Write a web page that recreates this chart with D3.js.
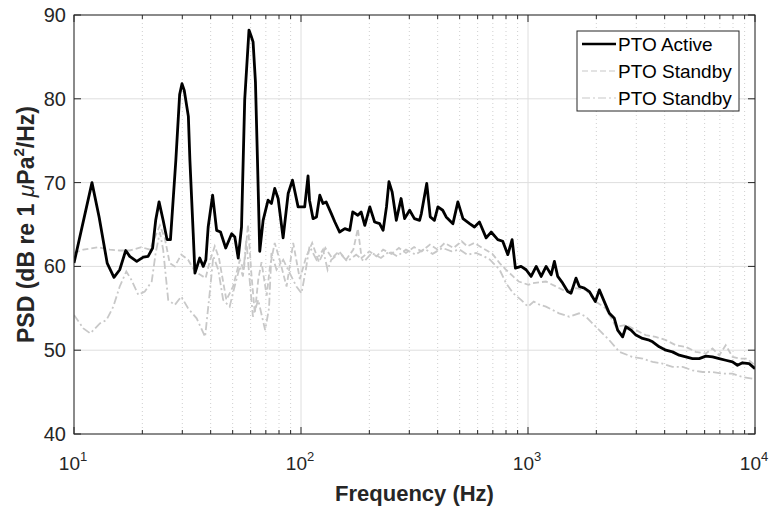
<!DOCTYPE html>
<html>
<head>
<meta charset="utf-8">
<script src="https://cdn.jsdelivr.net/npm/d3@7"></script>
<style>
  body { margin: 0; background: #fff; }
  text { font-family: "Liberation Sans", Arial, sans-serif; }
</style>
</head>
<body>
<div id="chart"></div>
<script>

// PTO Active (black)
var freqActive = [10, 12.0, 12.9, 14.0, 15.0, 15.9, 16.9, 17.6, 18.9, 20.2, 21.2, 22.2, 22.9, 23.7, 24.7, 25.7, 26.6, 28.1, 29.2, 29.9, 30.6, 31.9, 32.4, 33.5, 34.1, 35.8, 37.1, 38.1, 39.0, 40.8, 42.5, 44.2, 46.6, 49.5, 51.1, 52.9, 54.7, 56.5, 59.0, 60.3, 61.5, 63.0, 64.3, 65.8, 68.1, 71.6, 74.1, 76.6, 79.3, 83.4, 87.8, 91.7, 97.1, 103.8, 107.4, 109, 113, 117, 121, 125, 129, 136, 141, 148, 156, 164, 169, 178, 184, 191, 201, 211, 222, 230, 238, 244, 252, 263, 276, 286, 301, 316, 333, 339, 358, 371, 387, 401, 421, 436, 467, 491, 517, 553, 581, 611, 654, 688, 736, 774, 815, 851, 880, 932, 981, 1032, 1087, 1143, 1202, 1265, 1307, 1352, 1422, 1496, 1547, 1627, 1683, 1771, 1863, 1980, 2062, 2168, 2282, 2400, 2483, 2612, 2700, 2840, 2988, 3197, 3420, 3540, 3787, 4050, 4330, 4637, 4960, 5305, 5677, 6075, 6500, 6955, 7430, 7960, 8370, 8810, 9420, 10000];
var psdActive = [60.4, 70.0, 65.9, 60.4, 58.7, 59.6, 61.9, 61.2, 60.6, 61.1, 61.2, 62.2, 65.5, 67.7, 65.5, 63.2, 63.2, 72.7, 80.5, 81.8, 81.0, 77.9, 72.7, 64.0, 59.2, 61.0, 60.0, 60.8, 64.7, 68.5, 64.3, 64.1, 62.2, 63.9, 63.5, 61.0, 64.7, 79.9, 88.2, 87.5, 86.8, 82.0, 72.7, 61.8, 65.5, 67.9, 67.5, 69.3, 68.1, 63.4, 68.7, 70.3, 67.1, 67.1, 70.8, 67.9, 65.7, 65.9, 68.5, 67.5, 67.7, 66.3, 65.3, 64.1, 64.5, 64.3, 66.5, 66.1, 66.5, 64.9, 67.1, 65.3, 65.1, 64.3, 67.1, 70.1, 68.9, 65.5, 68.1, 65.7, 66.7, 65.7, 65.5, 66.3, 69.9, 65.9, 65.5, 67.1, 66.7, 65.9, 65.1, 67.7, 65.7, 65.1, 64.7, 65.3, 63.4, 64.1, 63.2, 63.0, 61.4, 63.2, 59.8, 60.0, 59.6, 58.8, 60.0, 58.8, 60.0, 59.0, 60.6, 58.8, 58.0, 57.0, 56.8, 58.6, 57.6, 57.4, 57.0, 55.8, 57.2, 55.8, 54.4, 53.8, 52.4, 51.6, 52.8, 52.4, 51.8, 51.4, 51.2, 51.0, 50.4, 50.0, 49.8, 49.4, 49.2, 49.0, 49.0, 49.3, 49.2, 49.0, 48.8, 48.6, 48.2, 48.5, 48.4, 47.8];

// PTO Standby (gray dashed)
var freqStandbyA = [10, 11, 12.8, 14.4, 15.9, 17.6, 19.8, 21.6, 22.9, 23.9, 25.1, 26.4, 27.8, 29.7, 31.8, 34.1, 36, 38, 39.6, 41.7, 43.5, 46.9, 50.2, 53.8, 56, 58.4, 60.5, 62.6, 64.8, 67, 70.6, 73, 76.6, 80.5, 86.4, 92.4, 98.8, 105.6, 112, 120, 128, 137, 147, 158, 170, 178, 185, 200, 215, 230, 250, 270, 290, 315, 340, 370, 400, 430, 470, 510, 540, 580, 630, 697, 750, 800, 860, 910, 1005, 1050, 1200, 1330, 1472, 1627, 1800, 1990, 2200, 2440, 2700, 2990, 3300, 3650, 4050, 4480, 4960, 5480, 6075, 6500, 6955, 7430, 7960, 8520, 9200, 9800, 10000];
var psdStandbyA = [61.6, 62.0, 62.3, 62.0, 61.9, 61.9, 62.3, 62.0, 63.7, 64.9, 63.4, 60.4, 60.0, 61.4, 60.8, 59.4, 59.0, 58.6, 60.6, 62.4, 61.0, 56.0, 57.6, 60.8, 59.5, 65.0, 59.0, 54.4, 58.4, 60.5, 56.5, 60.0, 62.8, 60.8, 57.6, 62.8, 58.5, 61.2, 62.8, 60.5, 62.2, 61.0, 61.8, 60.8, 62.0, 64.5, 61.0, 61.8, 61.2, 62.0, 61.5, 62.2, 61.6, 62.3, 61.8, 62.6, 62.0, 62.8, 62.2, 63.0, 62.4, 62.8, 62.2, 61.5, 60.4, 59.6, 58.8, 58.2, 57.8, 58.0, 58.2, 57.6, 57.0, 57.4, 57.2, 55.8, 55.0, 52.8, 53.0, 52.4, 51.8, 51.6, 51.2, 50.6, 50.4, 49.8, 49.6, 50.2, 49.4, 50.6, 49.2, 49.0, 49.0, 48.4, 48.0];

// PTO Standby (gray dash-dot)
var freqStandbyB = [10, 11.0, 11.8, 13.0, 13.9, 14.9, 15.9, 17.0, 17.9, 19.2, 20.5, 22.0, 22.9, 23.9, 24.7, 26.0, 27.8, 29.7, 31.8, 34.7, 37.8, 39.6, 41.1, 43.2, 45.4, 48.5, 51.0, 53.8, 55.5, 57.4, 59.4, 61.4, 64.8, 69.5, 72.3, 74.1, 78, 83.5, 89.2, 95.5, 100.5, 105, 109, 117, 125, 131, 136, 148, 160, 175, 190, 205, 225, 245, 265, 290, 320, 350, 380, 420, 460, 500, 540, 590, 640, 680, 750, 800, 860, 932, 1000, 1060, 1130, 1200, 1370, 1520, 1680, 1800, 1990, 2280, 2530, 2880, 3200, 3540, 3920, 4330, 4800, 5300, 5870, 6500, 7190, 7960, 8810, 9770, 10000];
var psdStandbyB = [54.2, 52.6, 52.0, 53.2, 53.6, 55.2, 57.6, 59.4, 58.4, 56.6, 57.0, 58.2, 61.6, 64.1, 62.0, 56.0, 55.4, 56.4, 55.0, 53.8, 51.6, 56.8, 61.2, 59.6, 56.0, 55.2, 57.6, 60.0, 58.8, 63.2, 58.4, 54.0, 56.0, 52.4, 55.0, 61.6, 59.6, 60.8, 59.2, 57.6, 56.8, 59.6, 62.4, 60.8, 62.0, 59.6, 60.8, 61.6, 60.6, 61.4, 60.6, 61.6, 61.0, 61.8, 61.2, 62.0, 61.4, 62.1, 61.5, 62.2, 61.8, 62.0, 61.4, 61.6, 61.2, 60.8, 59.6, 58.0, 56.8, 56.0, 55.2, 55.8, 55.4, 55.2, 54.4, 54.0, 54.4, 54.0, 52.8, 51.2, 49.8, 49.2, 49.0, 48.6, 48.4, 48.0, 48.0, 47.6, 47.4, 47.4, 47.2, 47.2, 46.8, 46.6, 46.5];

var seriesNames = ['PTO Active', 'PTO Standby', 'PTO Standby'];
var yTicks = [40, 50, 60, 70, 80, 90];
var xDecades = [10, 100, 1000, 10000];
var xExponents = ['1', '2', '3', '4'];

var width = 771, height = 508;
var margin = { left: 74, right: 16, top: 15, bottom: 74 };
var iw = width - margin.left - margin.right,
	ih = height - margin.top - margin.bottom;
var axisColor = '#262626';

var svg = d3.select('#chart')
			.append('svg')
			.attr('width', width)
			.attr('height', height);

var g = svg.append('g')
			.attr('transform', 'translate(' + margin.left + ',' + margin.top + ')');

var x = d3.scaleLog().domain([10, 10000]).range([0, iw]);
var y = d3.scaleLinear().domain([40, 90]).range([ih, 0]);

// minor frequencies 20..90, 200..900, 2000..9000
var minorFreqs = [];
xDecades.slice(0, 3).forEach(d => {
	for (var k = 2; k <= 9; k++) minorFreqs.push(d * k);
});

// grid
g.append('g').selectAll('line.minor')
	.data(minorFreqs)
	.enter().append('line')
	.attr('x1', d => x(d)).attr('x2', d => x(d))
	.attr('y1', 0).attr('y2', ih)
	.attr('stroke', '#cfcfcf')
	.attr('stroke-width', 1)
	.attr('stroke-dasharray', '1,3');

g.append('g').selectAll('line')
	.data(xDecades)
	.enter().append('line')
	.attr('x1', d => x(d)).attr('x2', d => x(d))
	.attr('y1', 0).attr('y2', ih)
	.attr('stroke', '#dedede');

g.append('g').selectAll('line')
	.data(yTicks)
	.enter().append('line')
	.attr('x1', 0).attr('x2', iw)
	.attr('y1', d => y(d)).attr('y2', d => y(d))
	.attr('stroke', '#dedede');

// lines
svg.append('clipPath').attr('id', 'clip')
	.append('rect').attr('width', iw).attr('height', ih);

var line = d3.line()
			.x(d => x(d[0]))
			.y(d => y(d[1]));

var zip = (f, v) => f.map((d, i) => [d, v[i]]);

var lines = g.append('g').attr('clip-path', 'url(#clip)');

lines.append('path')
	.datum(zip(freqStandbyB, psdStandbyB))
	.attr('d', line)
	.attr('fill', 'none')
	.attr('stroke', '#c8c8c8')
	.attr('stroke-width', 1.8)
	.attr('stroke-dasharray', '8,3,2,3');

lines.append('path')
	.datum(zip(freqStandbyA, psdStandbyA))
	.attr('d', line)
	.attr('fill', 'none')
	.attr('stroke', '#c8c8c8')
	.attr('stroke-width', 1.8)
	.attr('stroke-dasharray', '6,3');

lines.append('path')
	.datum(zip(freqActive, psdActive))
	.attr('d', line)
	.attr('fill', 'none')
	.attr('stroke', '#000')
	.attr('stroke-width', 2.8)
	.attr('stroke-linejoin', 'round');

// box
g.append('rect')
	.attr('width', iw).attr('height', ih)
	.attr('fill', 'none')
	.attr('stroke', axisColor)
	.attr('stroke-width', 1);

// ticks (inside, on all sides)
var ticks = g.append('g').attr('stroke', axisColor).attr('stroke-width', 1);
yTicks.forEach(v => {
	ticks.append('line').attr('x1', 0).attr('x2', 7).attr('y1', y(v)).attr('y2', y(v));
	ticks.append('line').attr('x1', iw).attr('x2', iw - 7).attr('y1', y(v)).attr('y2', y(v));
});
xDecades.forEach(f => {
	ticks.append('line').attr('x1', x(f)).attr('x2', x(f)).attr('y1', ih).attr('y2', ih - 7);
	ticks.append('line').attr('x1', x(f)).attr('x2', x(f)).attr('y1', 0).attr('y2', 7);
});
minorFreqs.forEach(f => {
	ticks.append('line').attr('x1', x(f)).attr('x2', x(f)).attr('y1', ih).attr('y2', ih - 4);
	ticks.append('line').attr('x1', x(f)).attr('x2', x(f)).attr('y1', 0).attr('y2', 4);
});

// tick labels
g.append('g').selectAll('text')
	.data(yTicks)
	.enter().append('text')
	.attr('x', -8)
	.attr('y', d => y(d) + 7)
	.attr('text-anchor', 'end')
	.attr('font-size', 20)
	.attr('fill', axisColor)
	.text(d => d);

var xl = g.append('g').selectAll('text')
	.data(xDecades)
	.enter().append('text')
	.attr('x', d => x(d) - 1)
	.attr('y', ih + 36)
	.attr('text-anchor', 'middle')
	.attr('font-size', 19)
	.attr('fill', axisColor);
xl.append('tspan').text('10');
xl.append('tspan')
	.attr('dy', -9)
	.attr('font-size', 13)
	.text((d, i) => xExponents[i]);

// axis titles
g.append('text')
	.attr('x', iw / 2)
	.attr('y', ih + 67)
	.attr('text-anchor', 'middle')
	.attr('font-size', 22)
	.attr('font-weight', 'bold')
	.attr('fill', axisColor)
	.text('Frequency (Hz)');

var yl = svg.append('text')
	.attr('transform', 'translate(34,' + (margin.top + ih / 2) + ') rotate(-90)')
	.attr('text-anchor', 'middle')
	.attr('font-size', 23)
	.attr('font-weight', 'bold')
	.attr('fill', axisColor);
yl.append('tspan').text('PSD (dB re 1 ');
yl.append('tspan').attr('font-style', 'italic').attr('font-weight', 'normal').text('μ');
yl.append('tspan').text('Pa');
yl.append('tspan').attr('dy', -10).attr('font-size', 15).text('2');
yl.append('tspan').attr('dy', 10).text('/Hz)');

// legend
var lg = svg.append('g').attr('transform', 'translate(577,31)');
lg.append('rect')
	.attr('width', 162).attr('height', 80)
	.attr('fill', '#fff')
	.attr('stroke', axisColor)
	.attr('stroke-width', 1);

var legendStyles = [
	{ color: '#000', w: 2.5, dash: null },
	{ color: '#c8c8c8', w: 1.2, dash: '6,3' },
	{ color: '#c8c8c8', w: 1.2, dash: '8,3,2,3' }
];

seriesNames.forEach((name, i) => {
	var cy = 13 + i * 27;
	lg.append('line')
		.attr('x1', 5).attr('x2', 39)
		.attr('y1', cy).attr('y2', cy)
		.attr('stroke', legendStyles[i].color)
		.attr('stroke-width', legendStyles[i].w)
		.attr('stroke-dasharray', legendStyles[i].dash);
	lg.append('text')
		.attr('x', 41)
		.attr('y', cy + 7)
		.attr('font-size', 19)
		.attr('fill', '#000')
		.text(name);
});

</script>
</body>
</html>
